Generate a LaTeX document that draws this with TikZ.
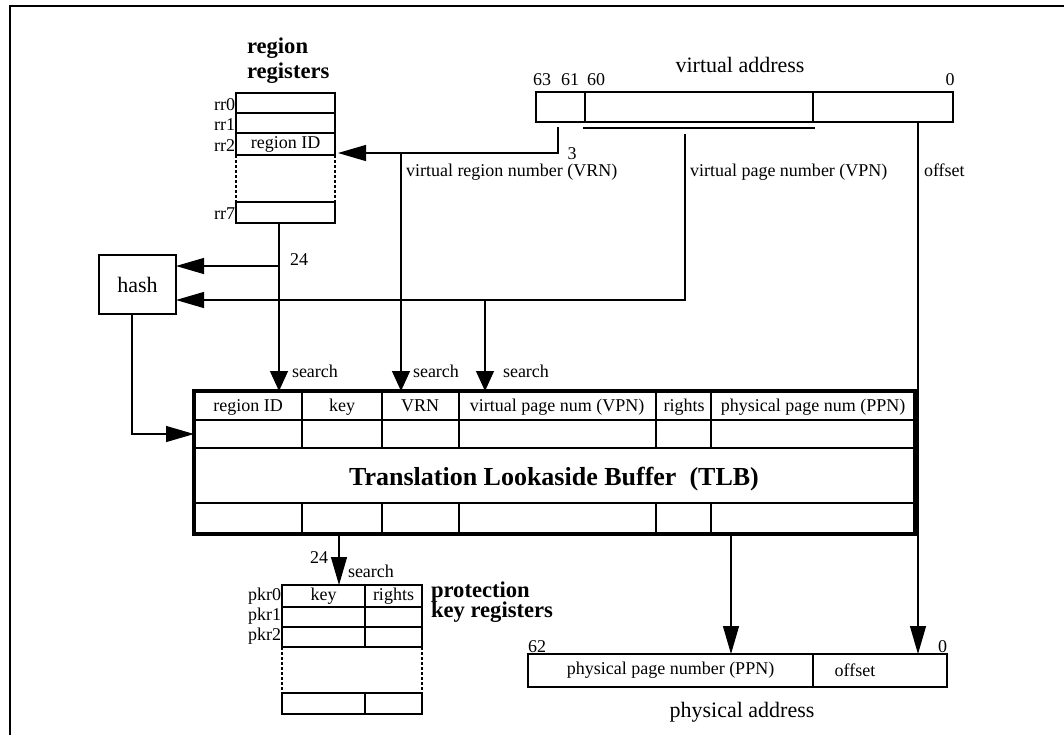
\documentclass[tikz,border=0pt]{standalone}
\usepackage{fontspec}
\setmainfont{Liberation Serif}
\usetikzlibrary{arrows.meta}

\begin{document}
\begin{tikzpicture}[x=0.5pt,y=-0.5pt,
  every node/.style={inner sep=0pt,outer sep=0pt},
  box/.style={draw,line width=0.6pt,anchor=north west},
  lbl/.style={font=\fontsize{9}{10}\selectfont},
  big/.style={font=\fontsize{11}{12}\selectfont},
  head/.style={font=\fontsize{11.3}{12}\selectfont\bfseries},
  wire/.style={line width=0.6pt},
  arr/.style={wire,-{Triangle[length=14pt,width=8pt]}},
  sarr/.style={wire,-{Triangle[length=10pt,width=9pt]}},
  dots/.style={wire,dash pattern=on 1.5pt off 1pt}]
  \useasboundingbox (0,0) rectangle (1064,735);
  \draw[line width=1pt] (10,735) -- (10,6) -- (1064,6);

  % region registers
  \node[head,anchor=base west] (rrtop) at (247,53) {region};
  \node[head,anchor=base west] (rrbot) at (247,78) {registers};
  \node[box,minimum width=49.5pt,minimum height=10pt] (rr0) at (236,93) {};
  \node[box,minimum width=49.5pt,minimum height=10pt] (rr1) at (236,113) {};
  \node[box,lbl,minimum width=49.5pt,minimum height=11pt] (rr2) at (236,133) {region ID};
  \draw[dots] (rr2.south west) -- (236,202) (rr2.south east) -- (335,202);
  \node[box,minimum width=49.5pt,minimum height=10.5pt] (rr7) at (236,202) {};
  \foreach \nm/\yy in {0/110,1/130,2/151,7/219}
    \node[lbl,anchor=base east] at (235,\yy) {rr\nm};

  % virtual address
  \node[big,anchor=base] (vatitle) at (740,72) {virtual address};
  \node[box,minimum width=24.5pt,minimum height=15pt] (vrnf) at (536,92) {};
  \node[box,minimum width=114pt,minimum height=15pt] (vpnf) at (585,92) {};
  \node[box,minimum width=70pt,minimum height=15pt] (offf) at (813,92) {};
  \foreach \txt/\xx in {63/542,61/570,60/596,0/950}
    \node[lbl,anchor=base] at (\xx,85) {\txt};
  \draw[wire] (583,128) -- (815,128);

  % hash
  \node[box,big,minimum width=38.5pt,minimum height=29.5pt] (hash) at (99,255) {hash};

  % TLB
  \node[box,line width=1.7pt,minimum width=360.5pt,minimum height=71.5pt] (tlb) at (194,391) {};
  \draw[wire] (194,420) -- (915,420) (194,448) -- (915,448) (194,503) -- (915,503);
  \foreach \xx in {302,382,459,656,711}
    \draw[wire] (\xx,391) -- (\xx,448) (\xx,503) -- (\xx,534);
  \foreach \txt/\xx in {region ID/248,key/342,VRN/420,virtual page num (VPN)/557,rights/684,physical page num (PPN)/813}
    \node[lbl,anchor=base] at (\xx,411) {\txt};
  \node[font=\fontsize{13}{15}\selectfont\bfseries,anchor=base] (tlbtitle) at (554,485) {Translation Lookaside Buffer \ (TLB)};

  % protection key registers
  \node[box,lbl,minimum width=41.5pt,minimum height=11pt] (pkr0) at (282,585) {key};
  \node[box,lbl,minimum width=28.5pt,minimum height=11pt] (pkr0r) at (365,585) {rights};
  \foreach \yy in {607,627}
    \draw[wire] (282,\yy) rectangle (422,\yy+20) (365,\yy) -- (365,\yy+20);
  \draw[dots] (282,647) -- (282,693) (422,647) -- (422,693);
  \draw[wire] (282,693) rectangle (422,714) (365,693) -- (365,714);
  \foreach \nm/\yy in {0/600,1/620,2/640}
    \node[lbl,anchor=base east] at (281,\yy) {pkr\nm};
  \node[head,anchor=base west] (pkrtop) at (431,597) {protection};
  \node[head,anchor=base west] (pkrbot) at (431,617) {key registers};

  % physical address
  \node[box,lbl,minimum width=142.5pt,minimum height=16.5pt] (ppnf) at (528,654) {physical page number (PPN)};
  \node[box,minimum width=67pt,minimum height=16.5pt] (poff) at (813,654) {};
  \node[lbl,anchor=base] at (855,676) {offset};
  \node[lbl,anchor=base west] at (528,652) {62};
  \node[lbl,anchor=base east] at (947,652) {0};
  \node[big,anchor=base] (patitle) at (742,717) {physical address};

  % connectors
  \coordinate (vrnsrc) at (558,127);
  \coordinate (vrnbend) at (558,153);
  \coordinate (vrnj) at (401,153);
  \coordinate (rr2in) at (338,153);
  \coordinate (vpnsrc) at (685,134);
  \coordinate (vpnbend) at (685,300);
  \coordinate (vpnj) at (485,300);
  \coordinate (rrout) at (279,223);
  \coordinate (rrj) at (279,266);
  \coordinate (hashout) at (132,314);
  \coordinate (tlbin) at (194,434);
  \coordinate (keyout) at (339,534);
  \coordinate (ppnout) at (731,534);
  \coordinate (offsrc) at (918,122);

  \draw[arr] (vrnsrc) -- (vrnbend) -- (rr2in);
  \draw[sarr] (vrnj) -- (vrnj |- tlb.north);
  \draw[arr] (vpnsrc) -- (vpnbend) -- (hash.east |- vpnbend);
  \draw[sarr] (vpnj) -- (vpnj |- tlb.north);
  \draw[sarr] (rrout) -- (rrout |- tlb.north);
  \draw[arr] (rrj) -- (hash.east |- rrj);
  \draw[arr] (hashout) |- (tlbin);
  \draw[arr] (keyout) -- (keyout |- pkr0.north);
  \draw[arr] (ppnout) -- (ppnout |- ppnf.north);
  \draw[arr] (offsrc) -- (offsrc |- poff.north);

  \node[lbl,anchor=base] at (572,159) {3};
  \node[lbl,anchor=base west] at (406,176) {virtual region number (VRN)};
  \node[lbl,anchor=base west] at (690,176) {virtual page number (VPN)};
  \node[lbl,anchor=base west] at (924,176) {offset};
  \node[lbl,anchor=base west] at (290,265) {24};
  \foreach \xx in {292,413,503}
    \node[lbl,anchor=base west] at (\xx,377) {search};
  \node[lbl,anchor=base east] at (328,563) {24};
  \node[lbl,anchor=base west] at (348,577) {search};
\end{tikzpicture}
\end{document}
